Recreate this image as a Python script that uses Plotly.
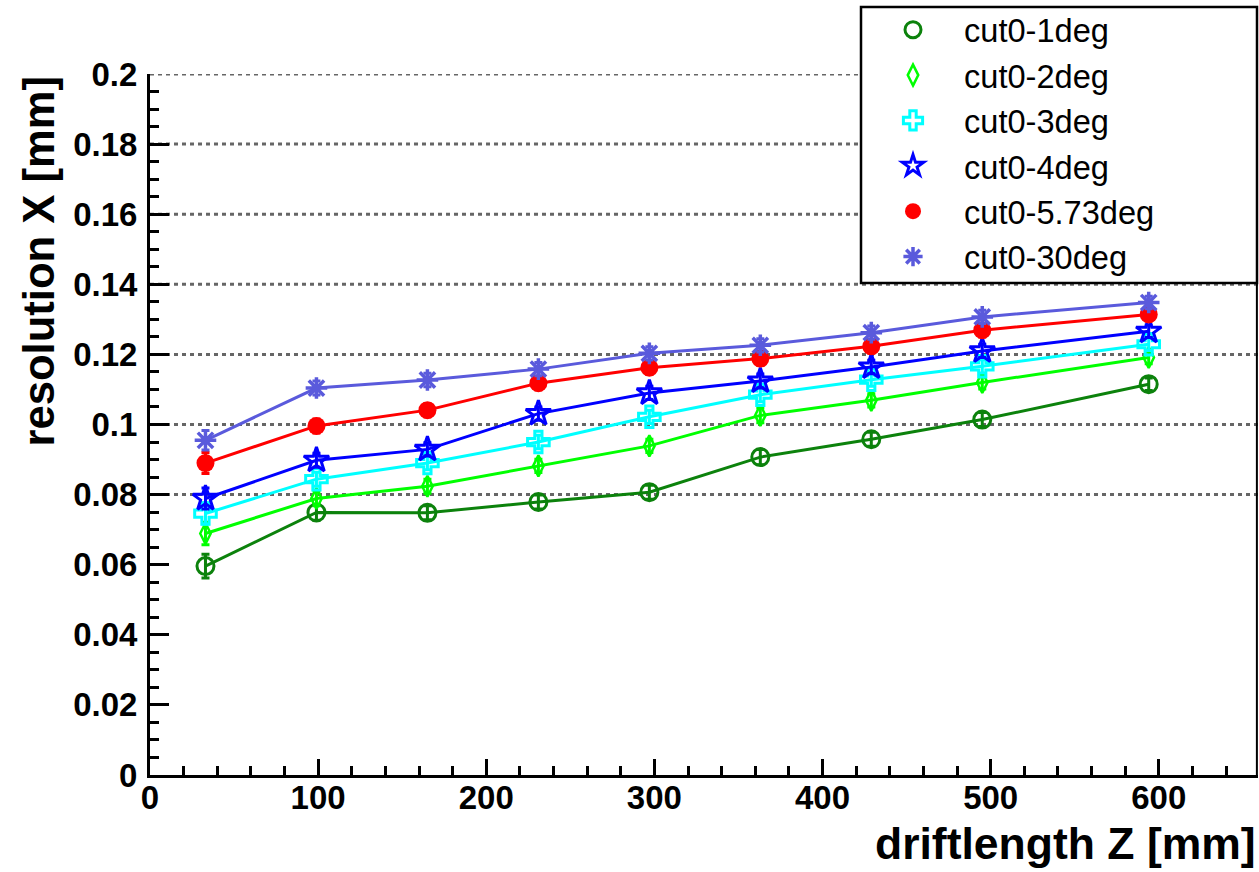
import plotly.graph_objects as go

# ---------------- data ----------------
drift_z = [33, 99, 165, 231, 297, 363, 429, 495, 594]

series_names = ["cut0-1deg", "cut0-2deg", "cut0-3deg", "cut0-4deg", "cut0-5.73deg", "cut0-30deg"]

res_1deg = [0.0596, 0.0749, 0.0748, 0.0779, 0.0807, 0.0907, 0.0958, 0.1014, 0.1115]
res_2deg = [0.0689, 0.0789, 0.0824, 0.0882, 0.0939, 0.1026, 0.1069, 0.1120, 0.1191]
res_3deg = [0.0746, 0.0844, 0.0890, 0.0950, 0.1022, 0.1085, 0.1128, 0.1166, 0.1229]
res_4deg = [0.0789, 0.0898, 0.0929, 0.1031, 0.1090, 0.1124, 0.1164, 0.1210, 0.1266]
res_573deg = [0.0890, 0.0996, 0.1041, 0.1118, 0.1162, 0.1188, 0.1223, 0.1269, 0.1314]
res_30deg = [0.0955, 0.1104, 0.1127, 0.1158, 0.1203, 0.1226, 0.1262, 0.1307, 0.1348]

err_1deg = [0.0034, 0.0022, 0.0020, 0.0020, 0.0020, 0.0022, 0.0020, 0.0020, 0.0018]
err_2deg = [0.0032, 0.0021, 0.0020, 0.0019, 0.0019, 0.0021, 0.0019, 0.0019, 0.0018]
err_3deg = [0.0030, 0.0020, 0.0019, 0.0019, 0.0019, 0.0020, 0.0019, 0.0019, 0.0018]
err_4deg = [0.0030, 0.0020, 0.0019, 0.0019, 0.0019, 0.0020, 0.0019, 0.0019, 0.0018]
err_573deg = [0.0030, 0.0020, 0.0019, 0.0019, 0.0019, 0.0019, 0.0019, 0.0019, 0.0018]
err_30deg = [0.0028, 0.0020, 0.0019, 0.0019, 0.0019, 0.0019, 0.0019, 0.0019, 0.0018]

grid_levels = [0.08, 0.10, 0.12, 0.14, 0.16, 0.18, 0.20]

x_title = "driftlength Z [mm]"
y_title = "resolution X [mm]"

# ---------------- style ----------------
W, H = 1259, 872
ML, MR, MT, MB = 150, 1, 74, 97
PW, PH = W - ML - MR, H - MT - MB

def px_x(p):
    return (p - ML) / PW

def px_y(p):
    return (H - MB - p) / PH

styles = [
    dict(color="#0c820c", symbol="circle-open", size=17, lw=3),
    dict(color="#00ff00", symbol="diamond-tall-open", size=15, lw=2.5),
    dict(color="#00ffff", symbol="cross-open", size=18, lw=3),
    dict(color="#0000ff", symbol="star-open", size=19, lw=3),
    dict(color="#ff0000", symbol="circle", size=18, lw=0),
    dict(color="#5a5adc", symbol="asterisk-open", size=18, lw=3.5),
]

all_res = [res_1deg, res_2deg, res_3deg, res_4deg, res_573deg, res_30deg]
all_err = [err_1deg, err_2deg, err_3deg, err_4deg, err_573deg, err_30deg]

fig = go.Figure()
for name, ys, es, st in zip(series_names, all_res, all_err, styles):
    fig.add_trace(go.Scatter(
        x=drift_z, y=ys, mode="lines", showlegend=False,
        line=dict(color=st["color"], width=3), hoverinfo="skip"))
    fig.add_trace(go.Scatter(
        x=drift_z, y=ys, mode="markers", name=name,
        error_y=dict(type="data", array=es, visible=True,
                     color=st["color"], thickness=3, width=4),
        marker=dict(symbol=st["symbol"], size=st["size"], color=st["color"],
                    line=dict(color=st["color"], width=st["lw"]))))

tickfont = dict(family="Liberation Sans, Arial, Helvetica, sans-serif", size=33,
                color="black", weight="bold")

fig.update_xaxes(
    range=[0, 659], showline=True, linewidth=3, linecolor="black",
    ticks="inside", ticklen=16, tickwidth=2.5, tickcolor="black", dtick=100, tick0=0,
    minor=dict(dtick=20, ticks="inside", ticklen=9, tickwidth=2.5, tickcolor="black", showgrid=False),
    showgrid=False, zeroline=False, tickfont=tickfont, ticklabelstandoff=-9)
fig.update_yaxes(
    range=[0, 0.2], showline=True, linewidth=3, linecolor="black",
    ticks="inside", ticklen=19, tickwidth=2.5, tickcolor="black", dtick=0.02, tick0=0,
    minor=dict(dtick=0.005, ticks="inside", ticklen=9, tickwidth=2.5, tickcolor="black", showgrid=False),
    showgrid=False, zeroline=False, tickfont=tickfont, ticklabelstandoff=3)

shapes = []
for g in grid_levels:
    shapes.append(dict(type="line", xref="paper", yref="y", x0=0, x1=1, y0=g, y1=g,
                       line=dict(color="#666666", width=3, dash="4px,4px"), layer="below"))
# right frame
shapes.append(dict(type="line", xref="paper", yref="paper", x0=0.999, x1=0.999, y0=0, y1=1,
                   line=dict(color="black", width=2), layer="above"))
# legend box
shapes.append(dict(type="rect", xref="paper", yref="paper",
                   x0=px_x(861), x1=px_x(1257), y0=px_y(283), y1=px_y(7),
                   line=dict(color="black", width=2.5), fillcolor="white", layer="above"))

def title_font(sz):
    return dict(family="Liberation Sans, Arial, Helvetica, sans-serif", size=sz,
                color="black", weight="bold")

annotations = [
    dict(text=x_title, xref="paper", yref="paper", x=px_x(1258), y=px_y(843),
         xanchor="right", yanchor="middle", showarrow=False, font=title_font(44.5)),
    dict(text=y_title, xref="paper", yref="paper", x=px_x(38), y=px_y(74),
         xanchor="center", yanchor="top", textangle=-90, showarrow=False, font=title_font(43.6)),
]

fig.update_layout(
    width=W, height=H, margin=dict(l=ML, r=MR, t=MT, b=MB, pad=0),
    paper_bgcolor="white", plot_bgcolor="white",
    shapes=shapes, annotations=annotations,
    legend=dict(x=px_x(862), xanchor="left", y=px_y(2), yanchor="top",
                bgcolor="rgba(0,0,0,0)", borderwidth=0, itemwidth=92,
                font=dict(family="Liberation Sans, Arial, Helvetica, sans-serif", size=32.6, color="black")),
)

fig.write_html("out.html")
